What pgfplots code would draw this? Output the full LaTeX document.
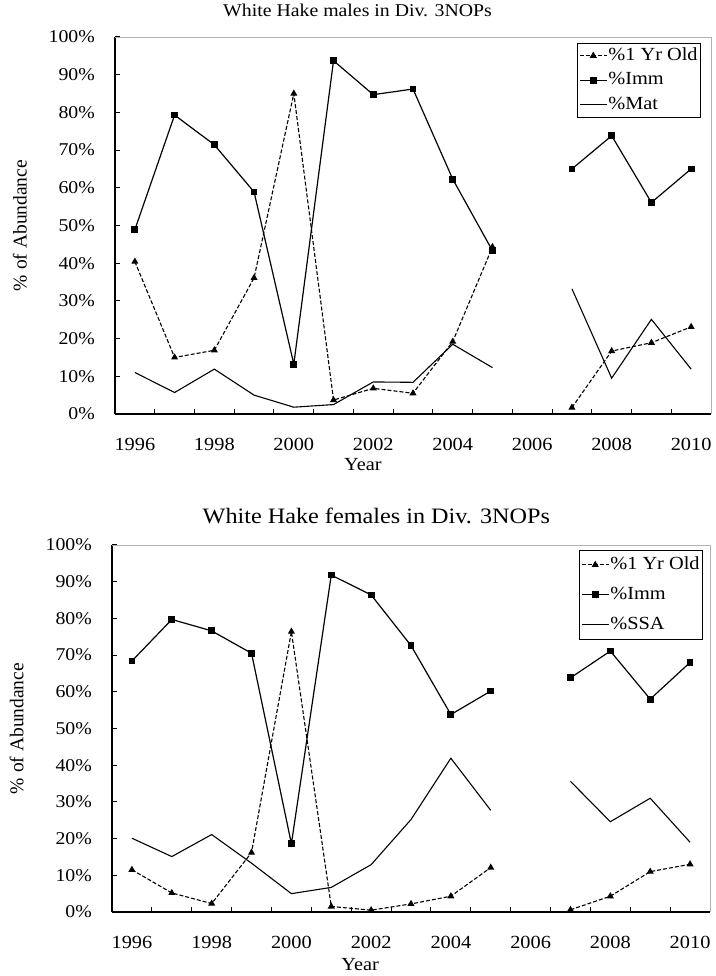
\documentclass[border=0pt]{standalone}
\usepackage{fontspec}
\setmainfont{Liberation Serif}[FakeStretch=1.1]
\newfontfamily\ylfont{Liberation Serif}
\usepackage{pgfplots}
\pgfplotsset{compat=1.18}
\usepackage{pgfplotstable}

\pgfplotstableread{
year one imm mat
1996 40.4 48.9 11.0
1997 15.0 79.3 5.7
1998 16.9 71.4 11.9
1999 36.1 58.9 5.0
2000 85.0 13.2 1.8
2001 3.7 93.7 2.5
2002 6.8 84.7 8.5
2003 5.5 86.2 8.4
2004 19.2 62.3 18.5
2005 44.3 43.3 12.3
2006 nan nan nan
2007 1.7 65.0 33.2
2008 16.7 73.8 9.5
2009 18.9 56.1 25.1
2010 23.1 65.0 11.9
}\males

\pgfplotstableread{
year one imm ssa
1996 11.5 68.4 20.1
1997 5.2 79.7 15.1
1998 2.3 76.6 21.1
1999 16.2 70.5 13.3
2000 76.4 18.6 5.0
2001 1.5 91.8 6.7
2002 0.5 86.4 12.9
2003 2.2 72.6 25.2
2004 4.3 53.8 41.9
2005 12.1 60.2 27.7
2006 nan nan nan
2007 0.6 63.8 35.6
2008 4.3 71.1 24.6
2009 11.0 58.0 31.0
2010 13.0 68.0 19.0
}\females

\pgfplotsset{
  hake/.style={
    scale only axis,
    xmin=1995.5, xmax=2010.5,
    ymin=0, ymax=100,
    ytick={0,10,20,30,40,50,60,70,80,90,100},
    yticklabel={\pgfmathprintnumber{\tick}\%},
    /pgf/number format/assume math mode=true,
    xtick={1996.5,1997.5,1998.5,1999.5,2000.5,2001.5,2002.5,2003.5,2004.5,2005.5,2006.5,2007.5,2008.5,2009.5},
    xticklabels={},
    extra x ticks={1996,1998,2000,2002,2004,2006,2008,2010},
    extra x tick labels={1996,1998,2000,2002,2004,2006,2008,2010},
    extra x tick style={major tick length=0pt},
    tick align=inside,
    major tick length=5pt,
    axis x line*=bottom,
    axis y line*=left,
    axis line style={black, line width=1.2pt},
    tick style={black, line width=1pt},
    xticklabel style={anchor=center, yshift=-30pt, font=\fontsize{18.5}{20}\selectfont},
    yticklabel style={anchor=east, inner xsep=0pt, xshift=-20pt, font=\fontsize{18}{20}\selectfont},
    ylabel={\% of Abundance},
    ylabel style={at={(axis description cs:-0.1594,0.5)}, anchor=center, rotate=0, font=\ylfont\fontsize{19.5}{22}\selectfont},
    xlabel={Year},
    unbounded coords=jump,
    legend cell align=left,
    legend image code/.code={\draw[mark repeat=2,mark phase=2,#1] plot coordinates {(0pt,0pt) (13.5pt,0pt) (27pt,0pt)};},
    after end axis/.code={\draw[gray!60, line width=0.8pt] (rel axis cs:0,1) -- (rel axis cs:1,1) -- (rel axis cs:1,0);},
  },
  oneyr/.style={black, line width=1.1pt, dash pattern=on 4pt off 2pt, mark=triangle*, mark size=3pt, mark options={solid}},
  immst/.style={black, line width=1.2pt, mark=square*, mark size=2.8pt, mark options={solid}},
  matst/.style={black, line width=1.1pt, no marks},
}

\begin{document}
\begin{tikzpicture}
\path[use as bounding box] (0pt,0pt) rectangle (715pt,976pt);

\begin{axis}[hake,
  at={(115pt,562pt)}, anchor=south west,
  width=596pt, height=377pt,
  title={White Hake males in Div. 3NOPs},
  title style={at={(axis description cs:0.407,1.055)}, anchor=center, font=\fontsize{18}{20}\selectfont},
  xlabel style={at={(axis description cs:0.416,-0.135)}, anchor=center, font=\fontsize{18.5}{20}\selectfont},
  legend style={at={(0.983,0.984)}, anchor=north east, draw=black, fill=white,
    inner xsep=2pt, inner ysep=3pt, row sep=5.5pt,
    font=\fontsize{18.5}{20}\selectfont,
    nodes={inner sep=1pt, text height=13pt, text depth=4pt}},
]
\addplot[oneyr] table[x=year, y=one] {\males};
\addlegendentry{\%1 Yr Old}
\addplot[immst] table[x=year, y=imm] {\males};
\addlegendentry{\%Imm}
\addplot[matst] table[x=year, y=mat] {\males};
\addlegendentry{\%Mat}
\end{axis}

\begin{axis}[hake,
  at={(112pt,64pt)}, anchor=south west,
  width=598pt, height=367pt,
  title={White Hake females in Div. 3NOPs},
  title style={at={(axis description cs:0.442,1.063)}, anchor=center, font=\fontsize{22}{24}\selectfont},
  xlabel style={at={(axis description cs:0.415,-0.143)}, anchor=center, inner sep=1pt, font=\fontsize{18.5}{20}\selectfont},
  legend style={at={(0.988,0.986)}, anchor=north east, draw=black, fill=white,
    inner xsep=2pt, inner ysep=5pt, row sep=11pt,
    font=\fontsize{18.5}{20}\selectfont,
    nodes={inner sep=1pt, text height=13pt, text depth=4pt}},
]
\addplot[oneyr] table[x=year, y=one] {\females};
\addlegendentry{\%1 Yr Old}
\addplot[immst] table[x=year, y=imm] {\females};
\addlegendentry{\%Imm}
\addplot[matst] table[x=year, y=ssa] {\females};
\addlegendentry{\%SSA}
\end{axis}
\end{tikzpicture}
\end{document}
